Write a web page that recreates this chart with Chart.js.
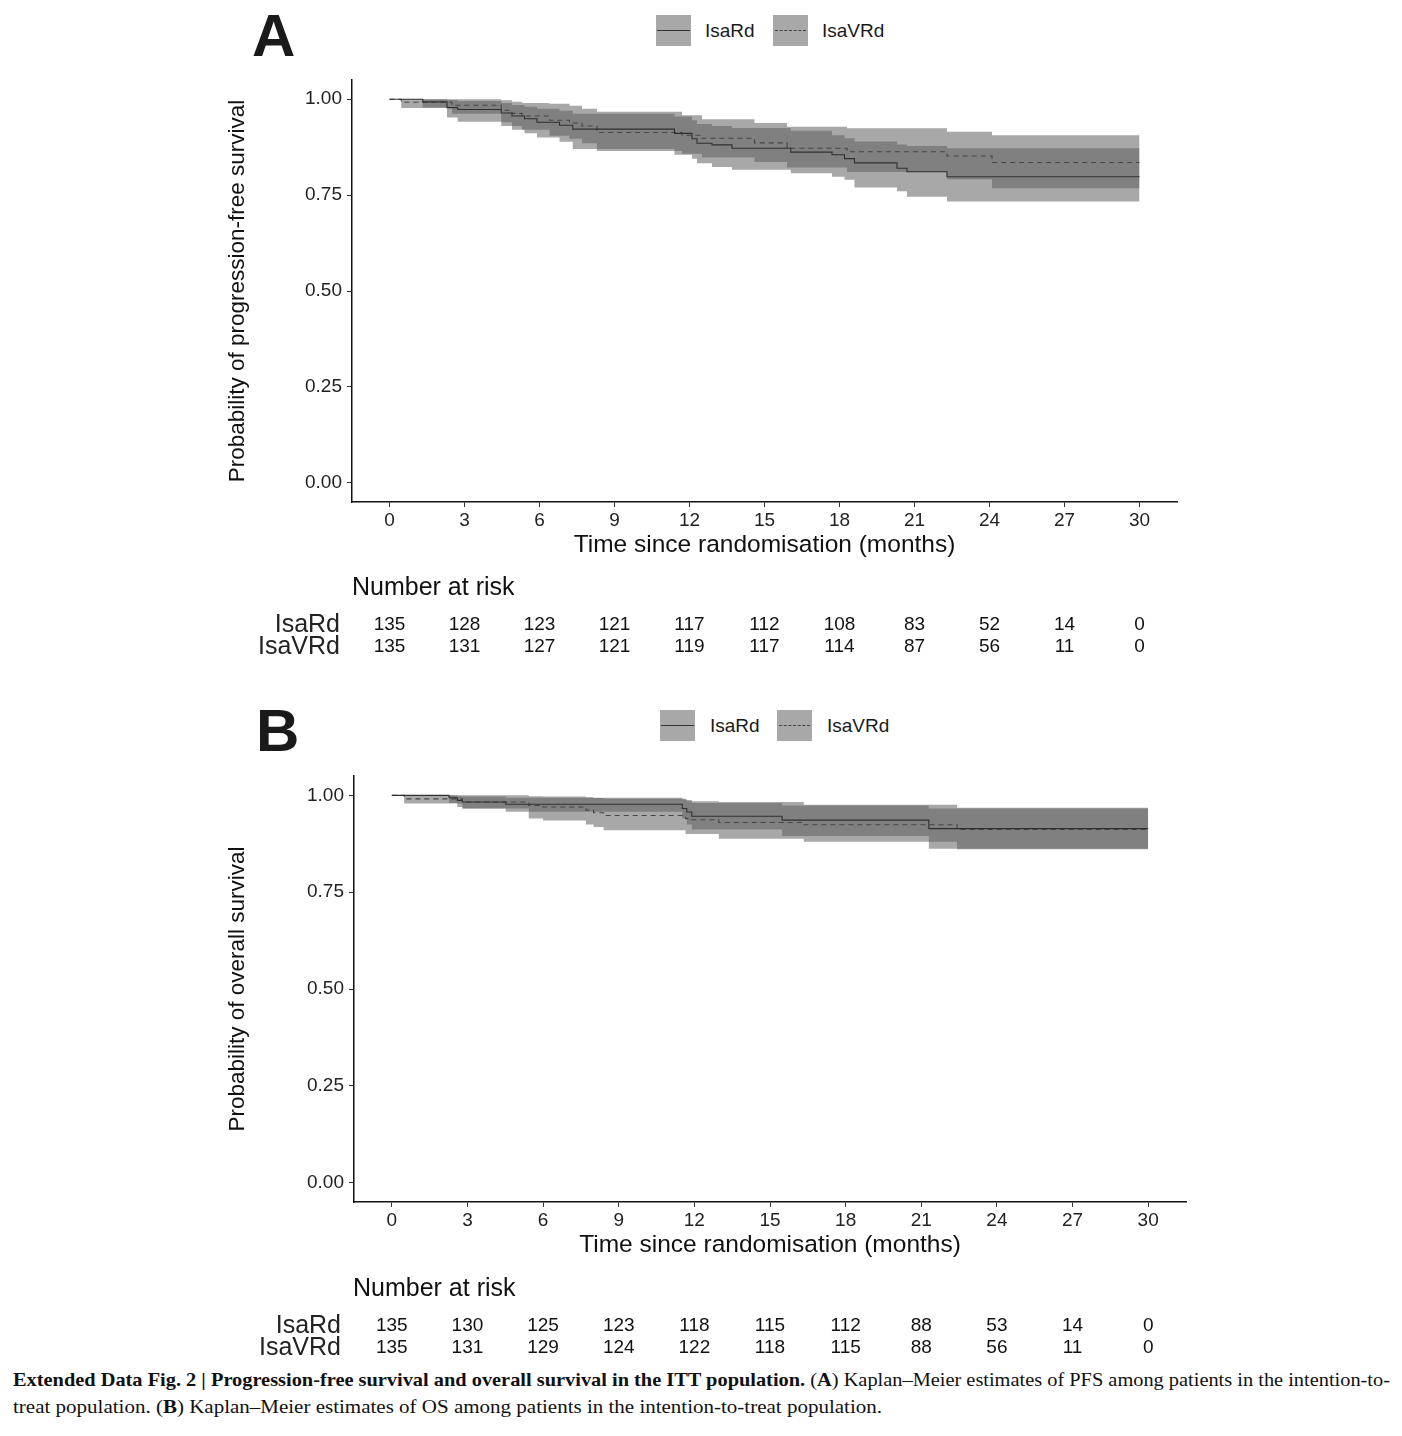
<!DOCTYPE html>
<html>
<head>
<meta charset="utf-8">
<script src="https://cdn.jsdelivr.net/npm/chart.js@4.4.1/dist/chart.umd.min.js"></script>
<style>
  body { margin: 0; background: #fff; width: 1402px; height: 1436px; position: relative; overflow: hidden; font-family: "Liberation Sans", Arial, sans-serif; }
  canvas { position: absolute; }
  .panel-letter { position: absolute; font-family: "Liberation Sans", Arial, sans-serif; font-weight: bold; font-size: 60px; line-height: 60px; color: #1a1a1a; }
  .key { position: absolute; width: 35px; height: 31px; background: #a8a8a8; }
  .key .solid { position: absolute; left: 1px; right: 1px; top: 15px; border-top: 1px solid #333; }
  .key .dashed { position: absolute; left: 2px; right: 2px; top: 15px; border-top: 1px dashed #444; }
  .key-label { position: absolute; font-size: 19px; line-height: 20px; color: #1a1a1a; }
  .caption { position: absolute; left: 13px; font-family: "Liberation Serif", "DejaVu Serif", serif; font-size: 19px; line-height: 22px; white-space: nowrap; transform-origin: left top; color: #111; }
</style>
</head>
<body>

<div class="panel-letter" style="left:252px; top:6px;">A</div>
<div class="key" style="left:656px; top:15px;"><div class="solid"></div></div>
<div class="key-label" style="left:705px; top:21px;">IsaRd</div>
<div class="key" style="left:773px; top:15px;"><div class="dashed"></div></div>
<div class="key-label" style="left:822px; top:21px;">IsaVRd</div>
<canvas id="chartPFS" width="967" height="605" style="left:220px; top:60px;"></canvas>

<div class="panel-letter" style="left:256px; top:701px;">B</div>
<div class="key" style="left:660px; top:710px;"><div class="solid"></div></div>
<div class="key-label" style="left:710px; top:716px;">IsaRd</div>
<div class="key" style="left:777px; top:710px;"><div class="dashed"></div></div>
<div class="key-label" style="left:827px; top:716px;">IsaVRd</div>
<canvas id="chartOS" width="976" height="606" style="left:220px; top:756px;"></canvas>

<div class="caption" id="cap1" style="top:1369px;"><b>Extended Data Fig. 2 | Progression-free survival and overall survival in the ITT population.</b> (<b>A</b>) Kaplan–Meier estimates of PFS among patients in the intention-to-</div>
<div class="caption" id="cap2" style="top:1396px;">treat population. (<b>B</b>) Kaplan–Meier estimates of OS among patients in the intention-to-treat population.</div>

<script>
// data (perkiraan)
const groups = ['IsaRd', 'IsaVRd'];
const months = [0, 3, 6, 9, 12, 15, 18, 21, 24, 27, 30];
const survTicks = [0, 0.25, 0.5, 0.75, 1];

// A: progression-free survival
const pfsIsaRdTime  = [0, 1.33, 2.3, 2.73, 4.47, 4.9, 5.4, 5.9, 6.8, 7.33, 11.4, 12.1, 12.3, 12.9, 13.7, 16.05, 17.7, 18.2, 18.6, 20.3, 20.7, 22.3, 30];
const pfsIsaRdSurv  = [1, 0.993, 0.978, 0.973, 0.964, 0.956, 0.949, 0.94, 0.932, 0.922, 0.911, 0.897, 0.885, 0.881, 0.872, 0.862, 0.855, 0.845, 0.834, 0.82, 0.811, 0.798, 0.798];
const pfsIsaRdLower = [1, 0.978, 0.952, 0.941, 0.93, 0.92, 0.911, 0.9, 0.889, 0.87, 0.855, 0.845, 0.833, 0.823, 0.816, 0.807, 0.798, 0.79, 0.77, 0.76, 0.746, 0.733, 0.733];
const pfsIsaRdUpper = [1, 1, 0.998, 0.995, 0.99, 0.985, 0.98, 0.975, 0.97, 0.962, 0.955, 0.945, 0.935, 0.93, 0.925, 0.918, 0.906, 0.898, 0.89, 0.882, 0.878, 0.872, 0.872];

const pfsIsaVRdTime  = [0, 0.47, 2.5, 4.47, 4.9, 5.3, 6.4, 7.2, 7.7, 8.3, 11.7, 12.5, 14.6, 15.9, 18.3, 22.3, 24.1, 30];
const pfsIsaVRdSurv  = [1, 0.992, 0.984, 0.971, 0.963, 0.956, 0.945, 0.938, 0.93, 0.913, 0.906, 0.898, 0.886, 0.872, 0.863, 0.852, 0.835, 0.835];
const pfsIsaVRdLower = [1, 0.977, 0.962, 0.94, 0.93, 0.92, 0.905, 0.897, 0.885, 0.865, 0.858, 0.848, 0.836, 0.822, 0.81, 0.791, 0.768, 0.768];
const pfsIsaVRdUpper = [1, 1, 1, 0.997, 0.993, 0.99, 0.988, 0.983, 0.975, 0.967, 0.958, 0.948, 0.938, 0.928, 0.924, 0.915, 0.906, 0.906];

const pfsRiskIsaRd  = [135, 128, 123, 121, 117, 112, 108, 83, 52, 14, 0];
const pfsRiskIsaVRd = [135, 131, 127, 121, 119, 117, 114, 87, 56, 11, 0];

// B: overall survival
const osIsaRdTime  = [0, 2.27, 2.6, 2.8, 4.52, 11.52, 11.7, 11.9, 15.48, 21.3, 30];
const osIsaRdSurv  = [1, 0.994, 0.987, 0.983, 0.977, 0.966, 0.957, 0.946, 0.936, 0.914, 0.914];
const osIsaRdLower = [1, 0.98, 0.97, 0.966, 0.958, 0.94, 0.925, 0.912, 0.895, 0.862, 0.862];
const osIsaRdUpper = [1, 1, 0.998, 0.997, 0.994, 0.99, 0.985, 0.98, 0.974, 0.966, 0.966];

const osIsaVRdTime  = [0, 0.49, 2.8, 5.43, 6.0, 7.7, 8.0, 8.4, 11.65, 11.9, 12.97, 16.34, 22.42, 30];
const osIsaVRdSurv  = [1, 0.991, 0.983, 0.974, 0.97, 0.962, 0.955, 0.948, 0.94, 0.937, 0.93, 0.924, 0.912, 0.912];
const osIsaVRdLower = [1, 0.979, 0.966, 0.94, 0.935, 0.925, 0.918, 0.91, 0.9, 0.9, 0.888, 0.88, 0.861, 0.861];
const osIsaVRdUpper = [1, 1, 1, 0.998, 0.997, 0.995, 0.993, 0.991, 0.988, 0.985, 0.983, 0.976, 0.968, 0.968];

const osRiskIsaRd  = [135, 130, 125, 123, 118, 115, 112, 88, 53, 14, 0];
const osRiskIsaVRd = [135, 131, 129, 124, 122, 118, 115, 88, 56, 11, 0];

const FONT = '"Liberation Sans", Arial, sans-serif';
const BAND = 'rgba(94,94,94,0.54)';

function pts(t, v) {
    return t.map((x, i) => ({ x: x, y: v[i] }));
}

function kmDatasets(time, surv, lower, upper, dashed) {
    const base = { stepped: 'before', pointRadius: 0, pointHoverRadius: 0, tension: 0 };
    return [
        Object.assign({}, base, { data: pts(time, lower), borderWidth: 0, borderColor: 'rgba(0,0,0,0)', backgroundColor: BAND, fill: '+1', order: 2 }),
        Object.assign({}, base, { data: pts(time, upper), borderWidth: 0, borderColor: 'rgba(0,0,0,0)', fill: false, order: 2 }),
        Object.assign({}, base, { data: pts(time, surv), borderWidth: 1.1, borderColor: dashed ? '#454545' : '#303030', borderDash: dashed ? [5, 4] : [], fill: false, order: 0 })
    ];
}

// plugin tabel number at risk, posisi x ikut skala chart
const riskTablePlugin = {
    id: 'riskTable',
    afterDraw(chart, args, opts) {
        const ctx = chart.ctx;
        const xs = chart.scales.x;
        ctx.save();
        ctx.fillStyle = '#111';
        ctx.textBaseline = 'middle';
        ctx.font = '25px ' + FONT;
        ctx.textAlign = 'left';
        ctx.fillText('Number at risk', opts.titleX, opts.titleY);
        opts.rows.forEach((row, r) => {
            const y = opts.rowY[r];
            ctx.font = '25px ' + FONT;
            ctx.textAlign = 'right';
            ctx.fillStyle = '#222';
            ctx.fillText(groups[r], opts.nameX, y);
            ctx.font = '19px ' + FONT;
            ctx.textAlign = 'center';
            ctx.fillStyle = '#111';
            row.forEach((n, i) => ctx.fillText(String(n), xs.getPixelForValue(months[i]), y));
        });
        ctx.restore();
    }
};

function makeChart(id, yTitle, datasets, yWidth, risk) {
    const ctx = document.getElementById(id).getContext('2d');
    return new Chart(ctx, {
        type: 'line',
        data: { datasets: datasets },
        plugins: [riskTablePlugin],
        options: {
            responsive: false,
            animation: false,
            events: [],
            layout: { padding: { top: 20, right: 10, bottom: risk.bottom, left: 0 } },
            plugins: {
                legend: { display: false },
                tooltip: { enabled: false },
                riskTable: risk
            },
            scales: {
                x: {
                    type: 'linear',
                    min: -1.5,
                    max: 31.5,
                    afterBuildTicks: s => { s.ticks = months.map(v => ({ value: v })); },
                    afterFit: s => { s.height = 58; },
                    ticks: { color: '#222', font: { size: 19, family: FONT }, padding: 2, autoSkip: false, maxRotation: 0 },
                    grid: { drawOnChartArea: false, drawTicks: true, tickLength: 5, tickColor: '#333', tickWidth: 1 },
                    border: { color: '#111', width: 1.5 },
                    title: { display: true, text: 'Time since randomisation (months)', color: '#111', font: { size: 24.5, family: FONT }, padding: { top: 0, bottom: 0 } }
                },
                y: {
                    type: 'linear',
                    min: -0.05,
                    max: 1.05,
                    afterBuildTicks: s => { s.ticks = survTicks.map(v => ({ value: v })); },
                    afterFit: s => { s.width = yWidth; },
                    ticks: { color: '#222', font: { size: 19, family: FONT }, padding: 5, callback: v => Number(v).toFixed(2) },
                    grid: { drawOnChartArea: false, drawTicks: true, tickLength: 5, tickColor: '#333', tickWidth: 1 },
                    border: { color: '#111', width: 1.5 },
                    title: { display: true, text: yTitle, color: '#111', font: { size: 22.5, family: FONT }, padding: { top: 4, bottom: 0 } }
                }
            }
        }
    });
}

makeChart('chartPFS', 'Probability of progression-free survival',
    kmDatasets(pfsIsaRdTime, pfsIsaRdSurv, pfsIsaRdLower, pfsIsaRdUpper, false)
        .concat(kmDatasets(pfsIsaVRdTime, pfsIsaVRdSurv, pfsIsaVRdLower, pfsIsaVRdUpper, true)),
    132,
    { bottom: 105, titleX: 132, titleY: 528, nameX: 120, rowY: [565, 587], rows: [pfsRiskIsaRd, pfsRiskIsaVRd] });

makeChart('chartOS', 'Probability of overall survival',
    kmDatasets(osIsaRdTime, osIsaRdSurv, osIsaRdLower, osIsaRdUpper, false)
        .concat(kmDatasets(osIsaVRdTime, osIsaVRdSurv, osIsaVRdLower, osIsaVRdUpper, true)),
    134,
    { bottom: 102, titleX: 133, titleY: 533, nameX: 121, rowY: [570, 592], rows: [osRiskIsaRd, osRiskIsaVRd] });

// caption dipadatkan supaya lebarnya sama dengan gambar asli
['cap1', 'cap2'].forEach((id, i) => {
    const el = document.getElementById(id);
    const target = i === 0 ? 1377 : 869;
    el.style.transform = 'scaleX(' + (target / el.getBoundingClientRect().width) + ')';
});
</script>
</body>
</html>
